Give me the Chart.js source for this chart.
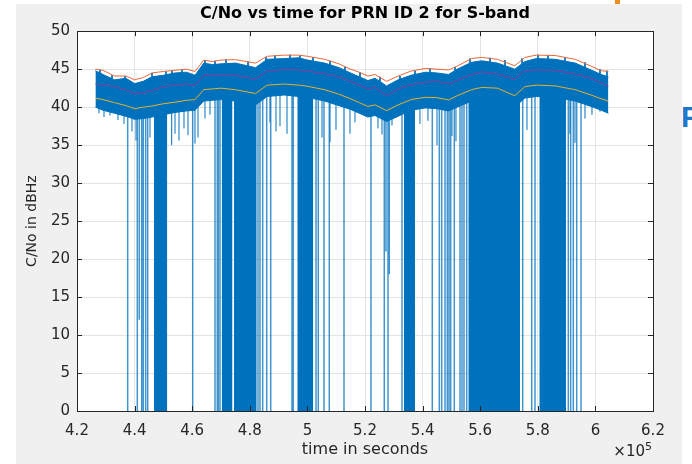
<!DOCTYPE html>
<html lang="en">
<head>
    <meta charset="UTF-8">
    <title>C/No vs time for PRN ID 2 for S-band</title>
    <script src="https://cdn.jsdelivr.net/npm/chart.js"></script>
    <style>
        body { margin: 0; background: #fff; width: 692px; height: 464px; overflow: hidden; position: relative; font-family: 'DejaVu Sans', sans-serif; }
        #fig { position: absolute; left: 16px; top: 4px; width: 666px; height: 460px; background: #f0f0f0; }
        #expo { position: absolute; left: 590px; top: 440px; width: 62px; text-align: right; font-size: 15px; color: #262626; }
        #expo sup { font-size: 11px; }
        #edge { position: absolute; left: 681px; top: 100px; font: bold 30px 'Liberation Sans', Arial; color: #1f78c8; }
        #dash { position: absolute; left: 615px; top: 0; width: 5px; height: 5px; background: #f28a1c; }
    </style>
</head>
<body>
    <div id="dash"></div>
    <div id="edge">Pu</div>
    <div id="fig"><canvas id="cnoChart" width="666" height="460"></canvas></div>
    <div id="expo">&times;10<sup>5</sup></div>

    <script>
        // envelope curves (time in seconds)
        const envTime = [426400, 429000, 433000, 437000, 440000, 443000, 446000, 450000, 454000, 458000, 461000,
            464000, 467000, 470000, 475000, 482000, 486000, 492000, 497000, 500000, 506000, 511000, 515000,
            518000, 521000, 523500, 527500, 531500, 536000, 541000, 545000, 549000, 552000, 557000, 560500,
            566000, 572000, 575500, 579500, 586000, 593000, 598500, 602000, 604500];
        const upperEnv = [45.0, 44.85, 44.1, 44.1, 43.6, 43.9, 44.5, 44.7, 44.85, 45.0, 44.7,
            46.2, 46.0, 46.2, 46.25, 45.8, 46.7, 46.85, 46.85, 46.7, 46.3, 45.7, 45.0,
            44.6, 44.1, 44.3, 43.4, 44.1, 44.75, 45.1, 45.0, 44.9, 45.4, 46.4, 46.55,
            46.3, 45.45, 46.55, 46.85, 46.8, 46.3, 45.4, 44.8, 44.7];
        const meanEnv = [43.05, 42.95, 42.7, 42.3, 41.75, 41.9, 42.2, 42.7, 42.9, 43.05, 42.9,
            44.15, 44.2, 44.25, 44.2, 43.7, 44.75, 44.95, 44.9, 44.75, 44.4, 44.0, 43.4,
            42.9, 42.4, 42.6, 41.5, 42.4, 42.95, 43.3, 43.4, 43.05, 43.5, 44.3, 44.65,
            44.35, 43.7, 44.8, 44.9, 44.85, 44.35, 43.8, 43.2, 42.75];
        const lowerEnv = [41.2, 41.0, 40.6, 40.2, 39.8, 40.0, 40.15, 40.45, 40.65, 40.9, 41.0,
            42.3, 42.4, 42.5, 42.3, 41.8, 42.9, 43.05, 42.9, 42.75, 42.3, 41.7, 41.1,
            40.6, 40.1, 40.3, 39.55, 40.3, 41.0, 41.3, 41.25, 40.95, 41.5, 42.3, 42.6,
            42.5, 41.5, 42.7, 42.9, 42.8, 42.3, 41.6, 41.1, 40.8];

        // dense part of the C/No signal
        const bandTop = [44.8, 44.3, 43.6, 43.8, 43.1, 43.4, 44.0, 44.2, 44.5, 44.6, 44.2,
            45.8, 45.6, 45.7, 45.8, 45.2, 46.3, 46.4, 46.5, 46.2, 45.8, 45.2, 44.5,
            44.0, 43.5, 43.8, 42.8, 43.6, 44.2, 44.6, 44.5, 44.3, 45.0, 45.9, 46.1,
            45.8, 45.0, 46.0, 46.4, 46.3, 45.8, 44.9, 44.3, 44.0];
        const bandBottom = [40.0, 39.6, 39.2, 38.8, 38.4, 38.5, 38.7, 39.0, 39.3, 39.5, 39.6,
            40.8, 40.9, 41.0, 40.8, 40.3, 41.4, 41.6, 41.4, 41.3, 40.8, 40.2, 39.7,
            39.2, 38.7, 38.9, 38.1, 38.8, 39.6, 39.9, 39.8, 39.5, 40.0, 40.8, 41.1,
            41.0, 40.0, 41.2, 41.4, 41.3, 40.8, 40.1, 39.6, 39.2];

        // single spikes up / down from the band
        const peakTimes = [428000, 432150, 436670, 446040, 450900, 452990, 456460, 464440, 467920, 471740,
            479380, 485620, 488750, 493950, 497430, 501940, 507850, 513050, 518260, 525200, 532150,
            537360, 542570, 551250, 556460, 563400, 568610, 574510, 580070, 583540, 589440, 596380,
            601590, 604020];
        const peakVals = [44.9, 44.2, 44.1, 44.5, 44.7, 44.8, 45.0, 46.2, 46.1, 46.3,
            46.0, 46.6, 46.8, 46.9, 46.8, 46.6, 46.1, 45.3, 44.6, 44.0, 44.1,
            44.8, 45.1, 45.3, 46.4, 46.5, 46.2, 46.4, 46.9, 46.8, 46.6, 45.9,
            45.0, 44.8];
        const dipTimes = [427640, 429380, 431460, 434240, 436320, 439100, 440490, 445350, 452880, 454030,
            455420, 457150, 458540, 460970, 462010, 464440, 466180, 487010, 489100, 490490, 492920,
            505070, 507850, 509930, 514790, 516530, 520000, 524510, 525900, 529370, 539090, 541870,
            545000, 550200, 551590, 576240, 591170, 592910, 596380, 598810, 601590, 603670];
        const dipVals = [39.2, 38.7, 38.9, 38.3, 37.8, 36.8, 35.6, 36.0, 35.0, 36.5,
            35.6, 37.2, 36.3, 35.2, 36.0, 38.5, 39.0, 38.0, 36.8, 37.5, 36.5,
            36.0, 35.4, 37.0, 36.5, 38.0, 39.0, 37.2, 36.4, 37.6, 37.8, 38.2,
            35.0, 36.2, 35.5, 37.0, 36.5, 35.3, 38.5, 39.0, 39.4, 39.8];

        // signal losses
        const dropTimes = [437600, 440940, 441630, 442470, 443020, 443850, 444550, 460170, 467920, 468710,
            469060, 469650, 482850, 483540, 484480, 485870, 487260, 494650, 495100, 502990, 503780,
            505760, 507600, 512710, 522080, 526700, 527290, 527990, 528440, 532850, 543370, 545800,
            546630, 547780, 548580, 549170, 549760, 551010, 552990, 553680, 554380, 555310, 574760,
            577880, 579030, 590590, 591420, 592330, 593510, 595000];
        const dropVals = [0, 0, 12, 0, 0, 0, 0, 0, 0, 0,
            0, 0, 0, 0, 0, 0, 0, 0, 0, 0, 0,
            0, 0, 0, 0, 0, 21, 0, 18, 0, 0, 0,
            0, 0, 0, 0, 0, 0, 0, 0, 0, 0, 0,
            0, 0, 0, 0, 0, 0, 0];
        const outageStart = [446740, 470240, 474510, 496490, 533540, 555870, 580520];
        const outageEnd = [451350, 474000, 482400, 502050, 537360, 573820, 589790];

        const xTicks = [4.2, 4.4, 4.6, 4.8, 5, 5.2, 5.4, 5.6, 5.8, 6, 6.2];

        const BLUE = '#0072BD';
        const joinTop = 42; // vertical strokes end inside the band

        const xy = (ts, vs) => ts.map((t, i) => ({ x: t, y: vs[i] }));
        const strokes = (ts, vs) => {
            const pts = [];
            ts.forEach((t, i) => { pts.push({ x: t, y: vs[i] }, { x: t, y: joinTop }, { x: t, y: null }); });
            return pts;
        };
        const blocks = [];
        outageStart.forEach((s, i) => { blocks.push({ x: s, y: joinTop }, { x: outageEnd[i], y: joinTop }, { x: outageEnd[i], y: null }); });

        // white axes, box and inward tick marks like matlab
        const axesBox = {
            id: 'axesBox',
            afterLayout(chart) {
                // centre the title over the axes, not the whole figure
                const tb = chart.titleBlock;
                if (tb) {
                    tb.left = chart.chartArea.left;
                    tb.right = chart.chartArea.right;
                    tb.width = tb.right - tb.left;
                }
            },
            beforeDraw(chart) {
                const { ctx, chartArea: a } = chart;
                ctx.save();
                ctx.fillStyle = '#ffffff';
                ctx.fillRect(a.left, a.top, a.right - a.left, a.bottom - a.top);
                ctx.restore();
            },
            afterDraw(chart) {
                const { ctx, chartArea: a, scales } = chart;
                ctx.save();
                ctx.strokeStyle = '#262626';
                ctx.lineWidth = 1;
                ctx.beginPath();
                scales.x.ticks.forEach(t => {
                    const px = Math.round(scales.x.getPixelForValue(t.value)) + 0.5;
                    ctx.moveTo(px, a.bottom); ctx.lineTo(px, a.bottom - 5);
                    ctx.moveTo(px, a.top); ctx.lineTo(px, a.top + 5);
                });
                scales.y.ticks.forEach(t => {
                    const py = Math.round(scales.y.getPixelForValue(t.value)) + 0.5;
                    ctx.moveTo(a.left, py); ctx.lineTo(a.left + 5, py);
                    ctx.moveTo(a.right, py); ctx.lineTo(a.right - 5, py);
                });
                ctx.stroke();
                ctx.strokeRect(Math.round(a.left) + 0.5, Math.round(a.top) + 0.5,
                    Math.round(a.right - a.left), Math.round(a.bottom - a.top));
                ctx.restore();
            }
        };

        const family = "'DejaVu Sans', sans-serif";
        const tickFont = { family, size: 15 };
        const labelFont = { family, size: 16 };

        new Chart(document.getElementById('cnoChart'), {
            type: 'line',
            data: {
                datasets: [
                    { data: xy(envTime, upperEnv), borderColor: '#E8683A', borderWidth: 1, order: 0 },
                    { data: xy(envTime, meanEnv), borderColor: '#8E3A9E', borderWidth: 1, order: 0 },
                    { data: xy(envTime, lowerEnv), borderColor: '#E2B12C', borderWidth: 1, order: 0 },
                    { data: xy(envTime, bandTop), borderColor: BLUE, borderWidth: 1, order: 1 },
                    { data: xy(envTime, bandBottom), borderColor: BLUE, borderWidth: 1, backgroundColor: BLUE, fill: { target: 3 }, order: 1 },
                    { data: strokes(peakTimes, peakVals), borderColor: BLUE, borderWidth: 1, order: 2 },
                    { data: strokes(dipTimes, dipVals), borderColor: BLUE, borderWidth: 1, order: 2 },
                    { data: strokes(dropTimes, dropVals), borderColor: 'rgba(0,114,189,0.75)', borderWidth: 1.5, order: 3 },
                    { data: blocks, borderWidth: 0, borderColor: BLUE, backgroundColor: BLUE, fill: 'origin', order: 3 }
                ]
            },
            options: {
                responsive: false,
                animation: false,
                devicePixelRatio: 1,
                spanGaps: false,
                elements: { point: { radius: 0 }, line: { tension: 0 } },
                layout: { padding: { left: 0, right: 29, top: 0, bottom: 0 } },
                plugins: {
                    legend: { display: false },
                    tooltip: { enabled: false },
                    title: {
                        display: true,
                        text: 'C/No vs time for PRN ID 2 for S-band',
                        color: '#000',
                        font: { family, size: 16, weight: 'bold' },
                        padding: { top: 0, bottom: 8 }
                    }
                },
                scales: {
                    x: {
                        type: 'linear',
                        min: 420000,
                        max: 620000,
                        afterBuildTicks: scale => { scale.ticks = xTicks.map(v => ({ value: v * 1e5 })); },
                        afterFit: scale => { scale.height = 53; },
                        ticks: { color: '#262626', font: tickFont, padding: 11, maxRotation: 0, callback: v => String(+(v / 1e5).toFixed(1)) },
                        grid: { color: '#e3e3e3', drawTicks: false },
                        border: { display: false },
                        title: { display: true, text: 'time in seconds', color: '#262626', font: labelFont, padding: { top: 0, bottom: 5 } }
                    },
                    y: {
                        min: 0,
                        max: 50,
                        afterFit: scale => { scale.width = 61; },
                        ticks: { stepSize: 5, color: '#262626', font: tickFont, padding: 7 },
                        grid: { color: '#e3e3e3', drawTicks: false },
                        border: { display: false },
                        title: { display: true, text: 'C/No in dBHz', color: '#262626', font: { family, size: 14 }, padding: { top: 8, bottom: 0 } }
                    }
                }
            },
            plugins: [axesBox]
        });
    </script>
</body>
</html>
